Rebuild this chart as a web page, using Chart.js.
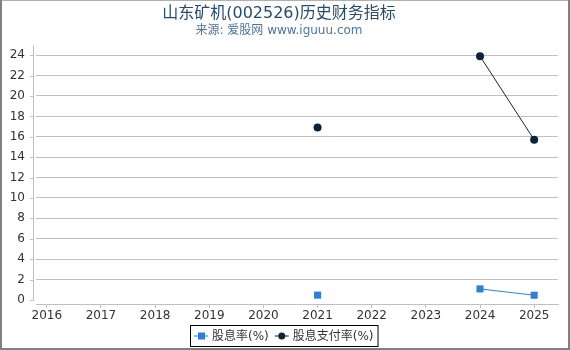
<!DOCTYPE html>
<html>
<head>
<meta charset="utf-8">
<script src="https://cdn.jsdelivr.net/npm/chart.js@4.4.1/dist/chart.umd.min.js"></script>
<style>
  html, body { margin: 0; padding: 0; background: #fff; }
  #wrap { width: 570px; height: 350px; position: relative; }
</style>
</head>
<body>
<div id="wrap"><canvas id="myChart" width="570" height="350"></canvas></div>
<script>
const years = [2016, 2017, 2018, 2019, 2020, 2021, 2022, 2023, 2024, 2025];
const dividendYield = [null, null, null, null, null, 0.47, null, null, 1.08, 0.46];
const payoutRatio = [null, null, null, null, null, 16.9, null, null, 23.9, 15.7];
const yTicks = [0, 2, 4, 6, 8, 10, 12, 14, 16, 18, 20, 22, 24];
const seriesNames = ['股息率(%)', '股息支付率(%)'];
const seriesColors = ['#2f7ed8', '#0d233a'];

const FONT = '"DejaVu Sans", "Noto Sans CJK SC", sans-serif';
const ctx = document.getElementById('myChart');

function toPoints(arr) {
  return years.map((x, i) => ({ x: x, y: arr[i] }));
}

// frame, y axis line/ticks and the boxed legend
const extras = {
  id: 'extras',
  afterDraw(chart) {
    const c = chart.ctx;
    const area = chart.chartArea;
    const ys = chart.scales.y;
    c.save();
    // y axis line sits a bit left of the plot
    c.strokeStyle = '#c0c0c0';
    c.lineWidth = 1;
    c.beginPath();
    c.moveTo(area.left - 2.5, area.top);
    c.lineTo(area.left - 2.5, area.bottom - 3);
    yTicks.forEach(v => {
      const py = Math.round(ys.getPixelForValue(v)) + 0.5;
      c.moveTo(area.left - 6, py);
      c.lineTo(area.left - 3, py);
    });
    c.stroke();

    // legend
    c.font = '12px ' + FONT;
    c.textBaseline = 'middle';
    const widths = seriesNames.map(n => c.measureText(n).width);
    const total = 4 + 18 + widths[0] + 6 + 18 + widths[1] + 4;
    const left = Math.round(284 - total / 2) + 0.5;
    const top = 325.5, h = 21;
    c.strokeStyle = '#000';
    c.strokeRect(left, top, total, h);
    let x = left + 3.5;
    const cy = top + h / 2;
    seriesNames.forEach((name, i) => {
      c.strokeStyle = seriesColors[i];
      c.fillStyle = seriesColors[i];
      c.beginPath();
      c.moveTo(x, cy);
      c.lineTo(x + 14, cy);
      c.stroke();
      if (i === 0) {
        c.fillRect(x + 4, cy - 3.5, 7, 7);
      } else {
        c.beginPath();
        c.arc(x + 7, cy, 3.5, 0, Math.PI * 2);
        c.fill();
      }
      c.fillStyle = '#333';
      c.fillText(name, x + 18, cy + 0.5);
      x += 18 + widths[i] + 6;
    });

    // outer frame
    c.fillStyle = '#b0b0b0';
    c.fillRect(0, 0, 570, 1);
    c.fillStyle = '#808080';
    c.fillRect(0, 0, 2, 350);
    c.fillRect(568, 0, 2, 350);
    c.fillRect(0, 348, 570, 2);
    c.restore();
  }
};

new Chart(ctx, {
  type: 'line',
  data: {
    datasets: [{
      label: seriesNames[0],
      data: toPoints(dividendYield),
      borderColor: seriesColors[0],
      backgroundColor: seriesColors[0],
      borderWidth: 1,
      pointStyle: 'rect',
      pointRadius: 5,
      pointBorderWidth: 0,
      spanGaps: false
    }, {
      label: seriesNames[1],
      data: toPoints(payoutRatio),
      borderColor: seriesColors[1],
      backgroundColor: seriesColors[1],
      borderWidth: 1,
      pointStyle: 'circle',
      pointRadius: 4,
      pointBorderWidth: 0,
      spanGaps: false
    }]
  },
  options: {
    responsive: false,
    animation: false,
    layout: { padding: { left: 0, right: 12, top: 0, bottom: 0 } },
    plugins: {
      legend: { display: false },
      tooltip: { enabled: false },
      title: {
        display: true,
        text: '山东矿机(002526)历史财务指标',
        color: '#274b6d',
        font: { family: FONT, size: 16, weight: 'normal' },
        padding: { top: 4, bottom: 0 }
      },
      subtitle: {
        display: true,
        text: '来源: 爱股网 www.iguuu.com',
        color: '#4d759e',
        font: { family: FONT, size: 12 },
        padding: { top: 0, bottom: 7.4 }
      }
    },
    scales: {
      x: {
        type: 'linear',
        min: 2015.8,
        max: 2025.44,
        afterBuildTicks: axis => { axis.ticks = years.map(v => ({ value: v })); },
        afterFit: s => { s.height = 46; },
        grid: { drawOnChartArea: false, color: '#c0c0c0', tickLength: 4 },
        border: { color: '#c0c0c0' },
        ticks: {
          color: '#333',
          font: { family: FONT, size: 12 },
          padding: 1,
          maxRotation: 0,
          callback: v => String(v)
        }
      },
      y: {
        min: -0.4,
        max: 25,
        afterBuildTicks: axis => { axis.ticks = yTicks.map(v => ({ value: v })); },
        afterFit: s => { s.width = 36; },
        grid: {
          color: c => (c.tick && c.tick.value === 0) ? 'rgba(0,0,0,0)' : '#c0c0c0',
          drawTicks: false
        },
        border: { display: false },
        ticks: {
          color: '#333',
          font: { family: FONT, size: 12 },
          padding: 11
        }
      }
    }
  },
  plugins: [extras]
});
</script>
</body>
</html>
